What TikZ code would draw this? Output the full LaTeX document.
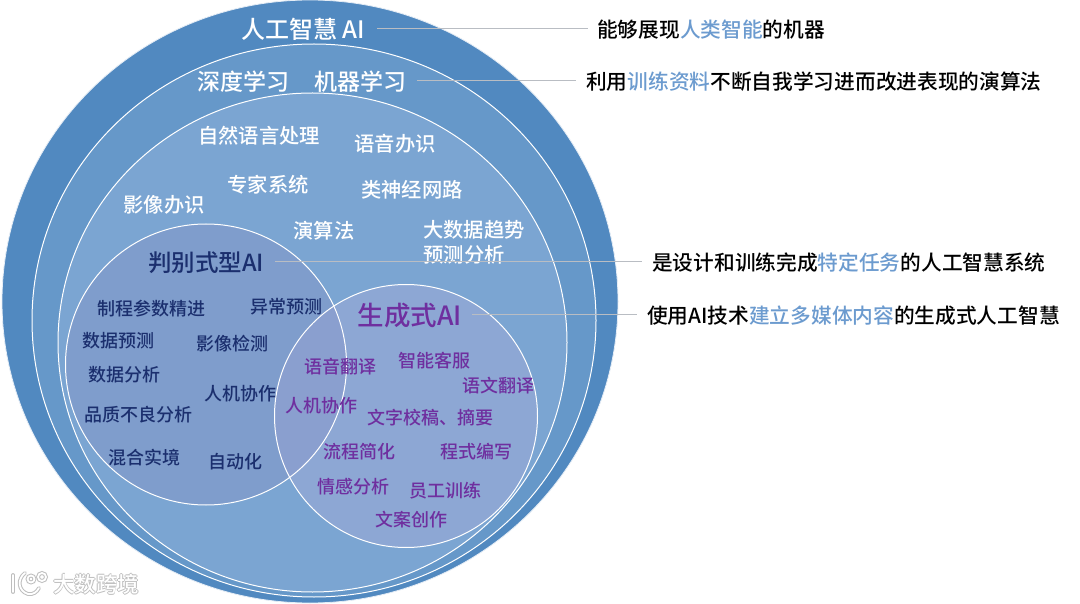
\documentclass[tikz,border=0pt]{standalone}
\usepackage{fontspec}
\setmainfont{Noto Sans CJK SC Medium}
\definecolor{ringA}{HTML}{5189C0}
\definecolor{ringB}{HTML}{6698C9}
\definecolor{ringC}{HTML}{7BA5D2}
\definecolor{discL}{HTML}{7F9DCC}
\definecolor{discR}{HTML}{8DA7D4}
\definecolor{discM}{HTML}{8A9FCF}
\definecolor{navy}{HTML}{1B2F6E}
\definecolor{plum}{HTML}{6F2F9F}
\definecolor{hilite}{HTML}{6C9BCF}
\definecolor{leader}{HTML}{B9BDC3}
\definecolor{wmshade}{HTML}{BEBEBE}
\newcommand{\fs}[1]{\fontsize{#1}{#1}\selectfont}
\newcommand{\hl}[1]{\textcolor{hilite}{#1}}
\tikzset{
  x=1pt,y=-1pt,
  edge/.style={draw=white,line width=1pt},
  lab/.style={inner sep=0pt,yshift=-1pt,text=white,font=\fs{20.3}},
  big/.style={inner sep=0pt,yshift=-1pt,text=white,font=\fs{23}},
  nv/.style={inner sep=0pt,yshift=-1pt,text=navy,font=\fs{18}},
  pl/.style={inner sep=0pt,yshift=-1pt,text=plum,font=\fs{18}},
  note/.style={inner sep=0pt,yshift=-1pt,anchor=west,text=black,font=\fs{20.7}},
  link/.style={draw=leader,line width=1pt},
  wm/.style={inner sep=0pt,font=\fs{21.5}},
}
\begin{document}
\begin{tikzpicture}
\useasboundingbox (0,0) rectangle (1080,604);
\fill[white] (0,0) rectangle (1080,604);
% nested circles
\draw[draw=white!85!ringA,line width=0.8pt,fill=ringA] (310,301.5) ellipse [x radius=308,y radius=301.5];
\draw[edge,fill=ringB] (314,320.5) ellipse [x radius=282,y radius=276.5];
\draw[edge,fill=ringC] (312.5,342.5) ellipse [x radius=254.5,y radius=249.5];
\fill[discL] (206,364.5) circle [radius=140.5];
\fill[discR] (406,416) circle [radius=131.5];
\begin{scope}
  \clip (206,364.5) circle [radius=140.5];
  \fill[discM] (406,416) circle [radius=131.5];
\end{scope}
\draw[edge] (206,364.5) circle [radius=140.5];
\draw[edge] (406,416) circle [radius=131.5];
% headings
\node[big,font=\fs{24}] (ai) at (303,28) {人工智慧 AI};
\node[big] (dl) at (243,81) {深度学习};
\node[big] (ml) at (360,81) {机器学习};
\node[big,text=navy,font=\fs{23.5}] (disc) at (206,262) {判别式型AI};
\node[big,text=plum,font=\fs{26.5}] (gen) at (410,315) {生成式AI};
% white labels
\node[lab] (n1) at (259,135) {自然语言处理};
\node[lab] (n2) at (395,143) {语音办识};
\node[lab] (n3) at (268,184) {专家系统};
\node[lab] (n4) at (412,189) {类神经网路};
\node[lab] (n5) at (164,204) {影像办识};
\node[lab] (n6) at (324,230) {演算法};
\node[lab] (n7) at (474,229) {大数据趋势};
\node[lab] (n8) at (464,254) {预测分析};
% discriminative labels
\node[nv] (d1) at (151,308) {制程参数精进};
\node[nv] (d2) at (286,306) {异常预测};
\node[nv] (d3) at (118,340) {数据预测};
\node[nv] (d4) at (232,343) {影像检测};
\node[nv] (d5) at (124,374) {数据分析};
\node[nv] (d6) at (240,393) {人机协作};
\node[nv] (d7) at (138,414) {品质不良分析};
\node[nv] (d8) at (144,457) {混合实境};
\node[nv] (d9) at (235,461) {自动化};
% generative labels
\node[pl] (g1) at (340,366) {语音翻译};
\node[pl] (g2) at (434,360) {智能客服};
\node[pl] (g3) at (498,385) {语文翻译};
\node[pl] (g4) at (321,405) {人机协作};
\node[pl] (g5) at (430,417) {文字校稿、摘要};
\node[pl] (g6) at (359,451) {流程简化};
\node[pl] (g7) at (476,451) {程式编写};
\node[pl] (g8) at (353,486) {情感分析};
\node[pl] (g9) at (445,490) {员工训练};
\node[pl] (g10) at (411,519) {文案创作};
% notes
\node[note] (t1) at (597,29) {能够展现\hl{人类智能}的机器};
\node[note] (t2) at (586,81) {利用\hl{训练资料}不断自我学习进而改进表现的演算法};
\node[note] (t3) at (652,262) {是设计和训练完成\hl{特定任务}的人工智慧系统};
\node[note] (t4) at (647,315) {使用AI技术\hl{建立多媒体内容}的生成式人工智慧};
% connectors
\draw[link] ([xshift=12pt,yshift=1pt]t1.west -| ai.east) -- ([xshift=-9pt,yshift=1pt]t1.west);
\draw[link] ([xshift=11pt,yshift=1pt]ml.east) -- ([xshift=-10pt,yshift=1pt]t2.west);
\draw[link] ([xshift=11pt,yshift=1pt]disc.east) -- ([xshift=-10pt,yshift=1pt]t3.west);
\draw[link] ([xshift=10pt,yshift=1pt]gen.east) -- ([xshift=-10pt,yshift=1pt]t4.west);
% watermark
\begin{scope}[draw=wmshade,line width=3.8pt,line cap=round]
  \draw (13,575) -- (13,592);
  \draw (25,573) .. controls (17,579) and (18,591) .. (28,594) .. controls (33,595) and (37,592) .. (39,588);
  \draw (31,579) circle [radius=3.5];
  \draw (42,577) circle [radius=4];
\end{scope}
\node[wm,text=wmshade] (w1) at (95.1,584) {大数跨境};
\node[wm,text=wmshade] (w2) at (96.9,584) {大数跨境};
\node[wm,text=wmshade] (w3) at (96,583.1) {大数跨境};
\node[wm,text=wmshade] (w4) at (96,584.9) {大数跨境};
\begin{scope}[draw=white,line width=1.8pt,line cap=round]
  \draw (13,575) -- (13,592);
  \draw (25,573) .. controls (17,579) and (18,591) .. (28,594) .. controls (33,595) and (37,592) .. (39,588);
  \draw (31,579) circle [radius=3.5];
  \draw (42,577) circle [radius=4];
\end{scope}
\node[wm,text=white] (w0) at (96,584) {大数跨境};
\end{tikzpicture}
\end{document}
